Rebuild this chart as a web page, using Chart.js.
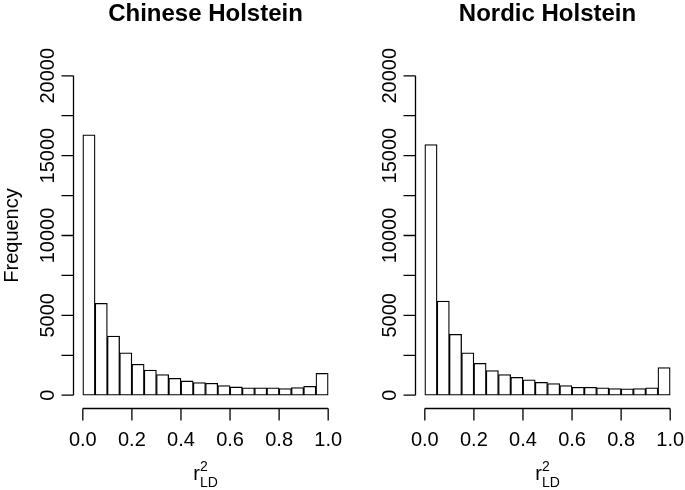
<!DOCTYPE html>
<html>
<head>
<meta charset="utf-8">
<script src="https://cdn.jsdelivr.net/npm/chart.js@4"></script>
<style>
  html, body { margin: 0; padding: 0; background: #fff; }
  #wrap { position: relative; width: 685px; height: 490px; }
  canvas { position: absolute; top: 0; }
</style>
</head>
<body>
<div id="wrap">
  <canvas id="left" width="342" height="490" style="left:0"></canvas>
  <canvas id="right" width="343" height="490" style="left:342px"></canvas>
</div>
<script>
// bin centres of the r2 histogram (width 0.05)
const binCentres = [0.025, 0.075, 0.125, 0.175, 0.225, 0.275, 0.325, 0.375, 0.425, 0.475,
                    0.525, 0.575, 0.625, 0.675, 0.725, 0.775, 0.825, 0.875, 0.925, 0.975];
const chineseCounts = [16300, 5750, 3700, 2660, 1940, 1580, 1290, 1060, 895, 790,
                       750, 600, 520, 460, 460, 460, 420, 480, 560, 1370];
const nordicCounts = [15700, 5890, 3810, 2660, 2000, 1540, 1290, 1120, 960, 810,
                      730, 600, 500, 500, 460, 420, 400, 420, 460, 1730];
const xTicks = [0, 0.2, 0.4, 0.6, 0.8, 1.0];
const yTicks = [0, 2500, 5000, 7500, 10000, 12500, 15000, 17500, 20000];
const yLabels = [0, 5000, 10000, 15000, 20000];

const FONT = '"Liberation Sans", Arial, Helvetica, sans-serif';

// R-style axes, title and labels drawn off the chart's own scales
const baseAxes = {
  id: 'baseAxes',
  afterDraw(chart, args, opts) {
    const ctx = chart.ctx;
    const xs = chart.scales.x, ys = chart.scales.y;
    const area = chart.chartArea;
    ctx.save();
    ctx.strokeStyle = '#000';
    ctx.fillStyle = '#000';
    ctx.lineWidth = 1.3;

    // y axis
    const ax = area.left + 0.5;
    ctx.beginPath();
    ctx.moveTo(ax, ys.getPixelForValue(yTicks[0]));
    ctx.lineTo(ax, ys.getPixelForValue(yTicks[yTicks.length - 1]));
    yTicks.forEach(v => {
      const py = ys.getPixelForValue(v);
      ctx.moveTo(ax, py);
      ctx.lineTo(ax - 12, py);
    });
    ctx.stroke();
    ctx.font = '20px ' + FONT;
    ctx.textAlign = 'center';
    ctx.textBaseline = 'alphabetic';
    yLabels.forEach(v => {
      ctx.save();
      ctx.translate(ax - 20, ys.getPixelForValue(v));
      ctx.rotate(-Math.PI / 2);
      ctx.fillText(String(v), 0, 0);
      ctx.restore();
    });

    // x axis
    const ay = area.bottom + 0.5;
    ctx.beginPath();
    ctx.moveTo(xs.getPixelForValue(xTicks[0]), ay);
    ctx.lineTo(xs.getPixelForValue(xTicks[xTicks.length - 1]), ay);
    xTicks.forEach(v => {
      const px = xs.getPixelForValue(v);
      ctx.moveTo(px, ay);
      ctx.lineTo(px, ay + 12);
    });
    ctx.stroke();
    xTicks.forEach(v => {
      ctx.fillText(v.toFixed(1), xs.getPixelForValue(v), 446);
    });

    // x label r^2_LD
    const cx = (xs.getPixelForValue(0) + xs.getPixelForValue(1)) / 2;
    ctx.font = '20px ' + FONT;
    const wr = ctx.measureText('r').width;
    ctx.font = '14px ' + FONT;
    const wsub = ctx.measureText('LD').width;
    const x0 = cx - (wr + wsub) / 2;
    ctx.textAlign = 'left';
    ctx.font = '20px ' + FONT;
    ctx.fillText('r', x0, 480);
    ctx.font = '14px ' + FONT;
    ctx.fillText('2', x0 + wr, 471);
    ctx.fillText('LD', x0 + wr, 487);

    // title
    ctx.textAlign = 'center';
    ctx.font = 'bold 24px ' + FONT;
    ctx.fillText(opts.title, cx, 21);

    // y axis title
    if (opts.yTitle) {
      ctx.font = '20px ' + FONT;
      ctx.save();
      ctx.translate(18, (ys.getPixelForValue(0) + ys.getPixelForValue(20000)) / 2);
      ctx.rotate(-Math.PI / 2);
      ctx.fillText(opts.yTitle, 0, 0);
      ctx.restore();
    }
    ctx.restore();
  }
};

function makeHist(id, counts, title, yTitle, rightPad) {
  new Chart(document.getElementById(id), {
    type: 'bar',
    data: {
      datasets: [{
        data: binCentres.map((c, i) => ({ x: c, y: counts[i] })),
        backgroundColor: '#fff',
        borderColor: '#000',
        borderWidth: 1.3,
        borderSkipped: false,
        barPercentage: 1,
        categoryPercentage: 1
      }]
    },
    options: {
      responsive: false,
      animation: false,
      devicePixelRatio: 1,
      layout: { padding: { left: 73, right: rightPad, top: 63, bottom: 82 } },
      scales: {
        x: { type: 'linear', min: -0.04, max: 1.04, offset: false, display: false },
        y: { type: 'linear', min: -800, max: 20800, display: false }
      },
      plugins: {
        legend: { display: false },
        tooltip: { enabled: false },
        baseAxes: { title: title, yTitle: yTitle }
      },
      events: []
    },
    plugins: [baseAxes]
  });
}

makeHist('left', chineseCounts, 'Chinese Holstein', 'Frequency', 4);
makeHist('right', nordicCounts, 'Nordic Holstein', null, 5);
</script>
</body>
</html>
